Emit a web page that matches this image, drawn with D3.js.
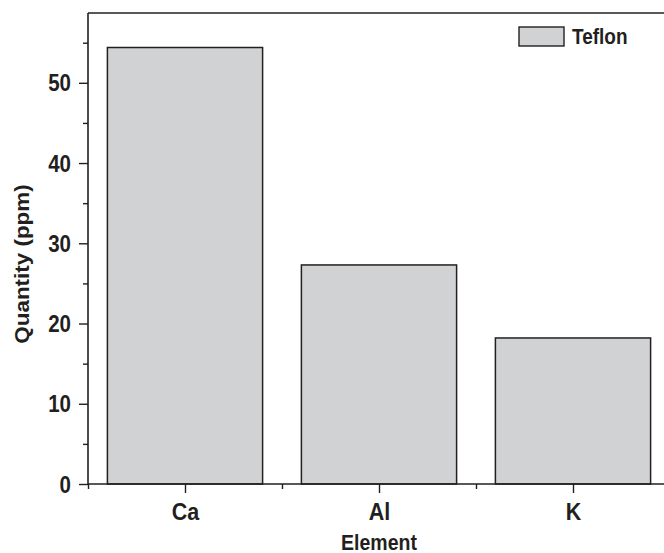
<!DOCTYPE html>
<html>
<head>
<meta charset="utf-8">
<script src="https://cdn.jsdelivr.net/npm/d3@7/dist/d3.min.js"></script>
<style>
  html, body { margin: 0; padding: 0; background: #fff; }
  svg { display: block; font-family: "Liberation Sans", Arial, Helvetica, sans-serif; }
</style>
</head>
<body>
<svg id="chart" width="664" height="553"></svg>
<script>
// Element concentrations measured in Teflon
const elements = ["Ca", "Al", "K"];
const quantities = [54.4, 27.3, 18.2];
const seriesName = "Teflon";
const yMajorTicks = [0, 10, 20, 30, 40, 50];
const yMinorTicks = [5, 15, 25, 35, 45, 55];

const svg = d3.select("#chart");
const ink = "#231f20";
const barFill = "#d1d2d4";
const stretch = 1.15; // tall lettering

const plotLeft = 88, plotRight = 670, plotTop = 13, plotBottom = 484;

// Category positions: 1, 2, 3 with the frame spanning 0.5 .. 3.5
const x = d3.scaleLinear().domain([0.5, elements.length + 0.5]).range([plotLeft, plotRight]);
const y = d3.scaleLinear().domain([0, 58.7]).range([plotBottom, plotTop]);
const step = x(2) - x(1);
const barW = step * 0.8;

// Bars
svg.append("g").selectAll("rect")
  .data(quantities)
  .join("rect")
  .attr("x", (d, i) => x(i + 1) - barW / 2)
  .attr("y", d => y(d))
  .attr("width", barW)
  .attr("height", d => y(0) - y(d))
  .attr("fill", barFill)
  .attr("stroke", ink)
  .attr("stroke-width", 1.5);

// Top frame line
svg.append("line")
  .attr("x1", plotLeft).attr("x2", plotRight)
  .attr("y1", plotTop).attr("y2", plotTop)
  .attr("stroke", ink).attr("stroke-width", 1.6);

// Y axis: major ticks with labels, minor ticks without
const yAxis = svg.append("g").attr("transform", `translate(${plotLeft},0)`)
  .call(d3.axisLeft(y).tickValues(yMajorTicks).tickSize(9).tickPadding(8).tickFormat(d3.format("d")));
yAxis.select(".domain").attr("d", `M0,${plotTop}V${plotBottom}`).attr("stroke", ink).attr("stroke-width", 1.6);
yAxis.selectAll(".tick line").attr("stroke", ink).attr("stroke-width", 1.4);
yAxis.selectAll(".tick text")
  .attr("fill", ink).attr("font-size", 20.5).attr("font-weight", "bold")
  .attr("font-family", "Liberation Sans, Arial, sans-serif")
  .attr("dy", "0.34em")
  .attr("transform", `scale(1,${stretch})`);

const yMinor = svg.append("g").attr("transform", `translate(${plotLeft},0)`)
  .call(d3.axisLeft(y).tickValues(yMinorTicks).tickSize(5).tickFormat(""));
yMinor.select(".domain").remove();
yMinor.selectAll(".tick line").attr("stroke", ink).attr("stroke-width", 1.4);

// X axis: category ticks with labels, boundary ticks between categories
const xAxis = svg.append("g").attr("transform", `translate(0,${plotBottom})`)
  .call(d3.axisBottom(x).tickValues(elements.map((d, i) => i + 1)).tickSize(9)
    .tickFormat((d, i) => elements[i]));
xAxis.select(".domain").attr("d", `M${plotLeft},0H${plotRight}`).attr("stroke", ink).attr("stroke-width", 1.6);
xAxis.selectAll(".tick line").attr("stroke", ink).attr("stroke-width", 1.4);
xAxis.selectAll(".tick text")
  .attr("fill", ink).attr("font-size", 21.5).attr("font-weight", "bold")
  .attr("font-family", "Liberation Sans, Arial, sans-serif")
  .attr("y", 36 / stretch).attr("dy", 0)
  .attr("transform", `scale(1,${stretch})`);

const xMinor = svg.append("g").attr("transform", `translate(0,${plotBottom})`)
  .call(d3.axisBottom(x).tickValues(d3.range(0.5, elements.length, 1)).tickSize(5).tickFormat(""));
xMinor.select(".domain").remove();
xMinor.selectAll(".tick line").attr("stroke", ink).attr("stroke-width", 1.4);

// Axis titles
svg.append("g").attr("transform", `translate(${x(2)},550) scale(1,${stretch})`)
  .append("text")
  .attr("text-anchor", "middle")
  .attr("font-size", 19.5).attr("font-weight", "bold").attr("fill", ink)
  .text("Element");

svg.append("text")
  .attr("transform", `translate(29,264) rotate(-90) scale(${stretch},1)`)
  .attr("text-anchor", "middle")
  .attr("font-size", 19.5).attr("font-weight", "bold").attr("fill", ink)
  .text("Quantity (ppm)");

// Legend
const legend = svg.append("g").attr("transform", "translate(519,27)");
legend.append("rect")
  .attr("width", 45).attr("height", 19)
  .attr("fill", barFill).attr("stroke", ink).attr("stroke-width", 1.4);
legend.append("g").attr("transform", `translate(53,17) scale(1,${stretch})`)
  .append("text")
  .attr("font-size", 19).attr("font-weight", "bold").attr("fill", ink)
  .text(seriesName);
</script>
</body>
</html>
